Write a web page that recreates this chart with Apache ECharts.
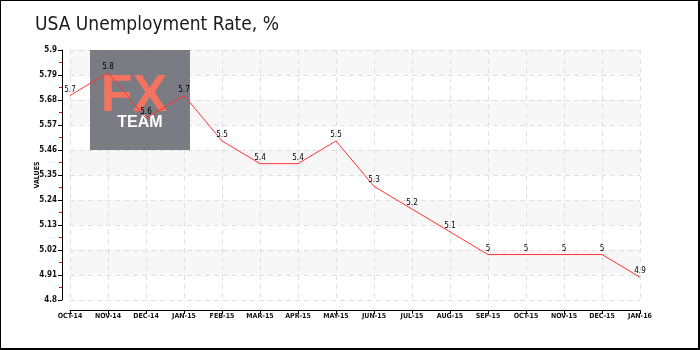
<!DOCTYPE html>
<html>
<head>
<meta charset="utf-8">
<script src="https://cdn.jsdelivr.net/npm/echarts@6/dist/echarts.min.js"></script>
<style>
  html, body { margin: 0; padding: 0; background: #fff; }
  #chart { width: 700px; height: 350px; }
</style>
</head>
<body>
<div id="chart"></div>
<script>
// Monthly US unemployment rate, Oct 2014 – Jan 2016
const months = ['OCT-14', 'NOV-14', 'DEC-14', 'JAN-15', 'FEB-15', 'MAR-15', 'APR-15', 'MAY-15',
                'JUN-15', 'JUL-15', 'AUG-15', 'SEP-15', 'OCT-15', 'NOV-15', 'DEC-15', 'JAN-16'];
const rates = [5.7, 5.8, 5.6, 5.7, 5.5, 5.4, 5.4, 5.5, 5.3, 5.2, 5.1, 5, 5, 5, 5, 4.9];

// Value axis range and step
const yMin = 4.8;
const yMax = 5.9;
const yStep = 0.11;

const labelFont = 'DejaVu Sans Condensed';

const chart = echarts.init(document.getElementById('chart'), null, { renderer: 'canvas' });

chart.setOption({
  animation: false,
  backgroundColor: '#fff',
  title: {
    text: 'USA Unemployment Rate, %',
    left: 30,
    top: 11,
    textStyle: {
      fontFamily: labelFont,
      fontSize: 19,
      fontWeight: 'normal',
      color: '#1a1a1a'
    }
  },
  grid: { left: 70, right: 60, top: 50, bottom: 50, containLabel: false },
  xAxis: {
    type: 'category',
    data: months,
    boundaryGap: false,
    offset: 10,
    axisLine: { lineStyle: { color: '#000', width: 1 } },
    axisTick: { show: true, length: 4, lineStyle: { color: '#000' } },
    axisLabel: {
      interval: 0,
      margin: 3,
      fontFamily: labelFont,
      fontSize: 7,
      fontWeight: 'bold',
      color: '#111'
    },
    splitLine: {
      show: true,
      lineStyle: { color: '#e0e0e0', type: [5, 4], width: 1 }
    }
  },
  yAxis: {
    type: 'value',
    min: yMin,
    max: yMax,
    interval: yStep,
    offset: 8,
    name: 'VALUES',
    nameLocation: 'middle',
    nameGap: 21,
    nameMoveOverlap: false,
    nameTextStyle: {
      fontFamily: labelFont,
      fontSize: 7,
      fontWeight: 'bold',
      color: '#111'
    },
    axisLine: { show: true, lineStyle: { color: '#000', width: 1 } },
    axisTick: { show: true, length: 4, lineStyle: { color: '#000' } },
    minorTick: { show: true, splitNumber: 2, length: 3, lineStyle: { color: '#ff0000' } },
    axisLabel: {
      margin: 5,
      fontFamily: labelFont,
      fontSize: 8,
      fontWeight: 'bold',
      color: '#111',
      formatter: v => String(parseFloat(v.toFixed(2)))
    },
    splitLine: {
      show: true,
      lineStyle: { color: '#e0e0e0', type: [5, 4], width: 1 }
    },
    splitArea: {
      show: true,
      areaStyle: { color: ['rgba(255,255,255,0)', '#f7f7f7'] }
    }
  },
  graphic: [
    {
      type: 'rect',
      z: 3,
      shape: { x: 90, y: 50, width: 100, height: 100 },
      style: { fill: 'rgba(112,112,120,0.92)' }
    },
    {
      type: 'text',
      z: 3,
      style: {
        text: 'FX',
        x: 134,
        y: 97,
        textAlign: 'center',
        textVerticalAlign: 'middle',
        font: 'bold 52px "Liberation Sans"',
        fill: '#f2735f'
      }
    },
    {
      type: 'text',
      z: 3,
      style: {
        text: 'TEAM',
        x: 140,
        y: 123,
        textAlign: 'center',
        textVerticalAlign: 'middle',
        font: 'bold 16px "Liberation Sans"',
        fill: '#ffffff'
      }
    },
    {
      type: 'rect',
      z: 100,
      shape: { x: 0, y: 0, width: 699, height: 349 },
      style: { fill: 'none', stroke: '#000', lineWidth: 2 }
    }
  ],
  series: [
    {
      type: 'line',
      data: rates,
      z: 5,
      symbol: 'circle',
      symbolSize: 0,
      itemStyle: { color: '#ff3333' },
      lineStyle: { color: '#ff3333', width: 1 },
      label: {
        show: true,
        position: 'top',
        distance: 2,
        fontFamily: labelFont,
        fontSize: 8,
        color: '#000'
      },
      emphasis: { disabled: true }
    }
  ]
});
</script>
</body>
</html>
